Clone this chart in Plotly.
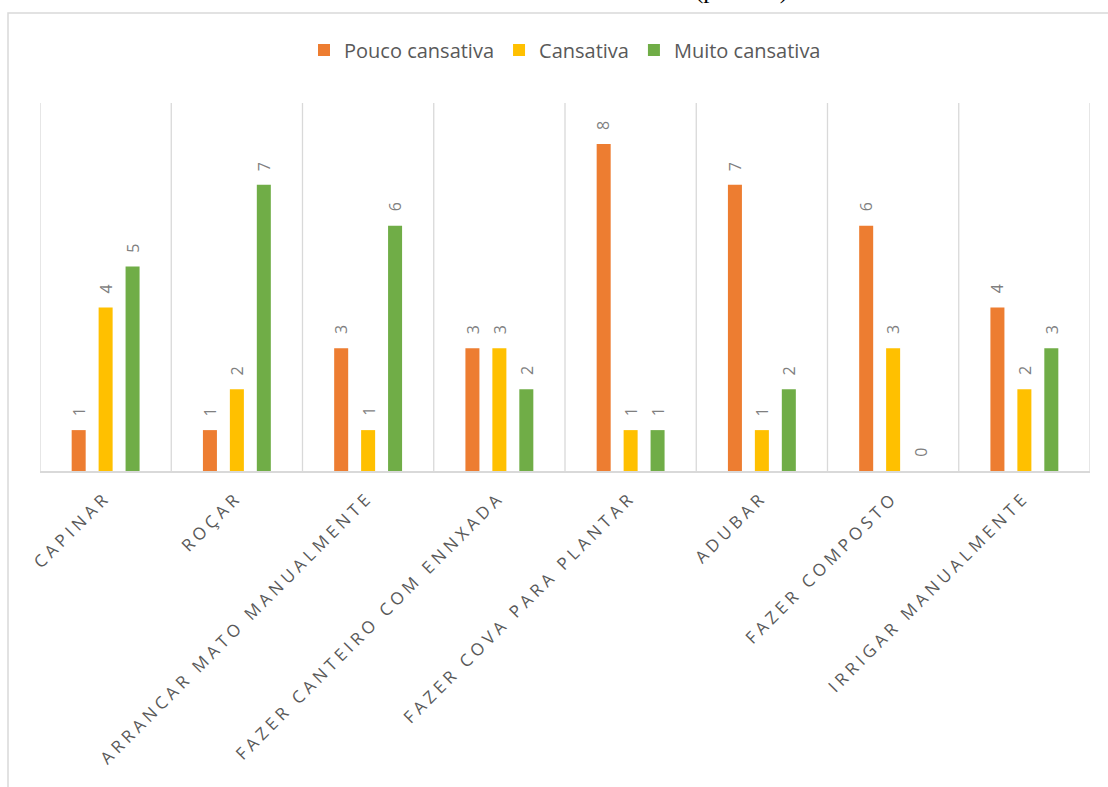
import plotly.graph_objects as go

categories = ["CAPINAR", "ROÇAR", "ARRANCAR MATO MANUALMENTE", "FAZER CANTEIRO COM ENNXADA",
              "FAZER COVA PARA PLANTAR", "ADUBAR", "FAZER COMPOSTO", "IRRIGAR MANUALMENTE"]
series_names = ["Pouco cansativa", "Cansativa", "Muito cansativa"]
pouco = [1, 1, 3, 3, 8, 7, 6, 4]
cansativa = [4, 2, 1, 3, 1, 1, 3, 2]
muito = [5, 7, 6, 2, 1, 2, 0, 3]
colors = ["#ED7D31", "#FFC000", "#70AD47"]

W, H = 1108, 787
ML, MR, MT, MB = 40, 18, 103, 316
pw = W - ML - MR
ph = H - MT - MB

def py(pix):
    return (H - MB - pix) / ph

def px(pix):
    return (pix - ML) / pw

fig = go.Figure()
all_series = [pouco, cansativa, muito]
for name, vals, col in zip(series_names, all_series, colors):
    fig.add_trace(go.Bar(x=list(range(len(categories))), y=vals, name=name,
                         marker=dict(color=col, line=dict(width=0))))

# data labels
offsets = [-27, 0, 27]
annotations = []
for vals, off in zip(all_series, offsets):
    for i, v in enumerate(vals):
        annotations.append(dict(x=i, y=v, xref="x", yref="y", text=str(v), showarrow=False,
                                textangle=-90, xanchor="center", yanchor="bottom",
                                xshift=off, yshift=12,
                                font=dict(family="Open Sans", size=16, color="#7f7f7f")))

# partially visible title at the top
annotations.append(dict(x=px(741), y=py(6), xref="paper", yref="paper", text="(pessoas)",
                        showarrow=False, xanchor="center", yanchor="bottom",
                        font=dict(family="Liberation Serif", size=25, color="#000000")))

shapes = []
# outer chart frame
shapes.append(dict(type="rect", xref="paper", yref="paper", x0=px(8), x1=px(1130),
                   y0=py(800), y1=py(13), line=dict(color="#d9d9d9", width=1.5), layer="below"))
# vertical category gridlines
for i in range(len(categories) + 1):
    shapes.append(dict(type="line", xref="x", yref="paper", x0=i - 0.5, x1=i - 0.5, y0=0, y1=1,
                       line=dict(color="#d9d9d9", width=1.3), layer="below"))

fig.update_layout(
    width=W, height=H,
    margin=dict(l=ML, r=MR, t=MT, b=MB, pad=0),
    paper_bgcolor="white", plot_bgcolor="white",
    barmode="group", bargap=0.384, bargroupgap=0.48,
    showlegend=True,
    legend=dict(orientation="h", x=0.5, xanchor="center", y=py(50), yanchor="middle",
                font=dict(family="Open Sans", size=20, color="#595959"),
                traceorder="normal", itemwidth=30),
    xaxis=dict(range=[-0.5, len(categories) - 0.5], tickmode="array",
               tickvals=list(range(len(categories))), ticktext=categories,
               tickangle=-45, showgrid=False, zeroline=False,
               showline=True, linecolor="#d9d9d9", linewidth=1.5,
               ticks="outside", ticklen=8, tickcolor="rgba(0,0,0,0)",
               tickfont=dict(family="Open Sans", size=17, color="#595959")),
    yaxis=dict(range=[0, 9], visible=False),
    annotations=annotations,
    shapes=shapes,
)

post = """
var gd = document.getElementById('{plot_id}');
function ls(){ gd.querySelectorAll('.xtick text').forEach(function(t){ t.style.letterSpacing='4.2px'; }); }
ls();
gd.on('plotly_afterplot', ls);
"""
fig.write_html("out.html", post_script=post)
